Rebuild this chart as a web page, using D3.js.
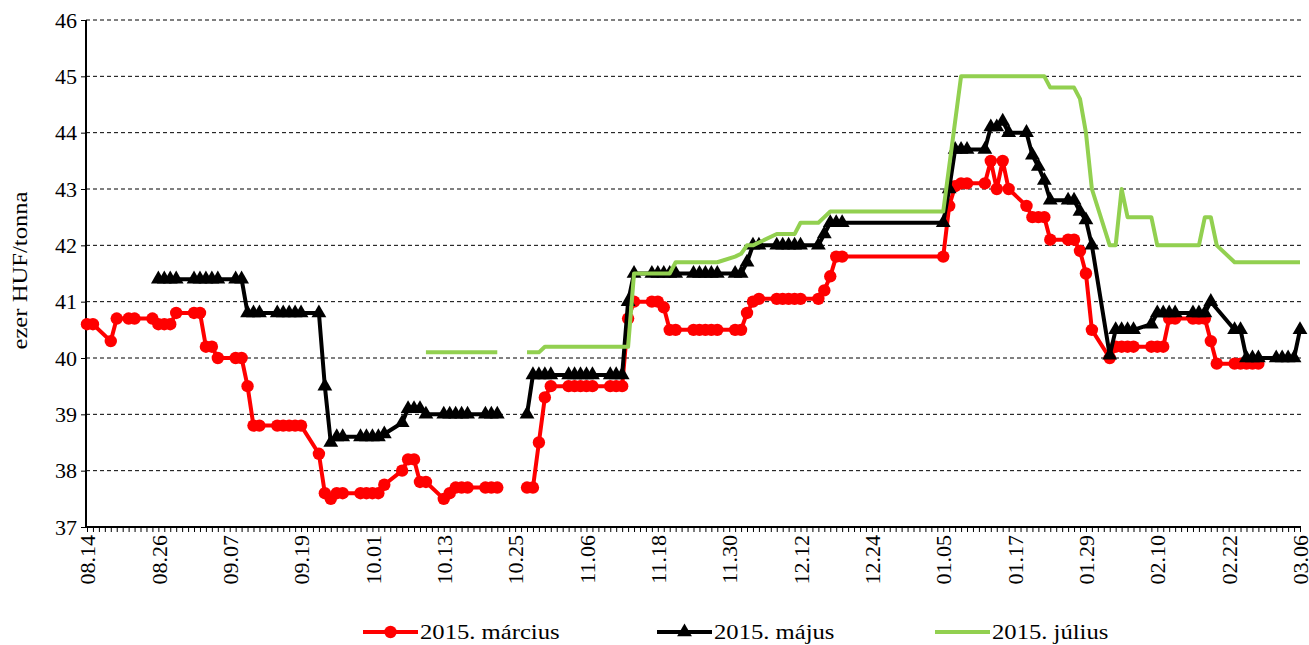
<!DOCTYPE html>
<html>
<head>
<meta charset="utf-8">
<script src="https://cdn.jsdelivr.net/npm/d3@7"></script>
<style>
  body { margin: 0; background: #fff; }
  svg text { font-family: 'Liberation Serif', 'Times New Roman', 'DejaVu Serif', serif !important; }
</style>
</head>
<body>
<svg width="1309" height="645"></svg>
<script>
// ── data ──────────────────────────────────────────────────────────────────────
// trading days (MM.DD), Aug..Dec = 2014, Jan..Mar = 2015
const dates = [
  '08.14', '08.15',
  '08.18', '08.19', '08.21', '08.22',
  '08.25', '08.26', '08.27', '08.28', '08.29',
  '09.01', '09.02', '09.03', '09.04', '09.05',
  '09.08', '09.09', '09.10', '09.11', '09.12',
  '09.15', '09.16', '09.17', '09.18', '09.19',
  '09.22', '09.23', '09.24', '09.25', '09.26',
  '09.29', '09.30', '10.01', '10.02', '10.03',
  '10.06', '10.07', '10.08', '10.09', '10.10',
  '10.13', '10.14', '10.15', '10.16', '10.17',
  '10.20', '10.21', '10.22', '10.23', '10.24',
  '10.27', '10.28', '10.29', '10.30', '10.31',
  '11.03', '11.04', '11.05', '11.06', '11.07',
  '11.10', '11.11', '11.12', '11.13', '11.14',
  '11.17', '11.18', '11.19', '11.20', '11.21',
  '11.24', '11.25', '11.26', '11.27', '11.28',
  '12.01', '12.02', '12.03', '12.04', '12.05',
  '12.08', '12.09', '12.10', '12.11', '12.12',
  '12.15', '12.16', '12.17', '12.18', '12.19',
  '01.05', '01.06', '01.07', '01.08', '01.09',
  '01.12', '01.13', '01.14', '01.15', '01.16',
  '01.19', '01.20', '01.21', '01.22', '01.23',
  '01.26', '01.27', '01.28', '01.29', '01.30',
  '02.02', '02.03', '02.04', '02.05', '02.06',
  '02.09', '02.10', '02.11', '02.12', '02.13',
  '02.16', '02.17', '02.18', '02.19', '02.20',
  '02.23', '02.24', '02.25', '02.26', '02.27',
  '03.02', '03.03', '03.04', '03.05', '03.06',
];

// days with no trading at all (the lines break there)
const closedDays = ['10.23', '10.24'];

const marcius = [
  40.6, 40.6,
  40.3, 40.7, 40.7, 40.7,
  40.7, 40.6, 40.6, 40.6, 40.8,
  40.8, 40.8, 40.2, 40.2, 40.0,
  40.0, 40.0, 39.5, 38.8, 38.8,
  38.8, 38.8, 38.8, 38.8, 38.8,
  38.3, 37.6, 37.5, 37.6, 37.6,
  37.6, 37.6, 37.6, 37.6, 37.75,
  38.0, 38.2, 38.2, 37.8, 37.8,
  37.5, 37.6, 37.7, 37.7, 37.7,
  37.7, 37.7, 37.7, null, null,
  37.7, 37.7, 38.5, 39.3, 39.5,
  39.5, 39.5, 39.5, 39.5, 39.5,
  39.5, 39.5, 39.5, 40.7, 41.0,
  41.0, 41.0, 40.9, 40.5, 40.5,
  40.5, 40.5, 40.5, 40.5, 40.5,
  40.5, 40.5, 40.8, 41.0, 41.05,
  41.05, 41.05, 41.05, 41.05, 41.05,
  41.05, 41.2, 41.45, 41.8, 41.8,
  41.8, 42.7, 43.05, 43.1, 43.1,
  43.1, 43.5, 43.0, 43.5, 43.0,
  42.7, 42.5, 42.5, 42.5, 42.1,
  42.1, 42.1, 41.9, 41.5, 40.5,
  40.0, 40.2, 40.2, 40.2, 40.2,
  40.2, 40.2, 40.2, 40.7, 40.7,
  40.7, 40.7, 40.7, 40.3, 39.9,
  39.9, 39.9, 39.9, 39.9, 39.9,
  null, null, null, null, null,
];

const majus = [
  null, null,
  null, null, null, null,
  null, 41.4, 41.4, 41.4, 41.4,
  41.4, 41.4, 41.4, 41.4, 41.4,
  41.4, 41.4, 40.8, 40.8, 40.8,
  40.8, 40.8, 40.8, 40.8, 40.8,
  40.8, 39.5, 38.5, 38.6, 38.6,
  38.6, 38.6, 38.6, 38.6, 38.65,
  38.85, 39.1, 39.1, 39.1, 39.0,
  39.0, 39.0, 39.0, 39.0, 39.0,
  39.0, 39.0, 39.0, null, null,
  39.0, 39.7, 39.7, 39.7, 39.7,
  39.7, 39.7, 39.7, 39.7, 39.7,
  39.7, 39.7, 39.7, 41.0, 41.5,
  41.5, 41.5, 41.5, 41.5, 41.5,
  41.5, 41.5, 41.5, 41.5, 41.5,
  41.5, 41.5, 41.7, 42.0, 42.0,
  42.0, 42.0, 42.0, 42.0, 42.0,
  42.0, 42.2, 42.4, 42.4, 42.4,
  42.4, 43.0, 43.7, 43.7, 43.7,
  43.7, 44.1, 44.1, 44.2, 44.0,
  44.0, 43.6, 43.4, 43.15, 42.8,
  42.8, 42.8, 42.6, 42.45, 42.0,
  40.05, 40.5, 40.5, 40.5, 40.5,
  40.6, 40.8, 40.8, 40.8, 40.8,
  40.8, 40.8, 40.8, 41.0, null,
  40.5, 40.5, 40.0, 40.0, 40.0,
  40.0, 40.0, 40.0, 40.0, 40.5,
];

const julius = [
  null, null,
  null, null, null, null,
  null, null, null, null, null,
  null, null, null, null, null,
  null, null, null, null, null,
  null, null, null, null, null,
  null, null, null, null, null,
  null, null, null, null, null,
  null, null, null, null, 40.1,
  40.1, 40.1, 40.1, 40.1, 40.1,
  40.1, 40.1, 40.1, null, null,
  40.1, 40.1, 40.1, 40.2, 40.2,
  40.2, 40.2, 40.2, 40.2, 40.2,
  40.2, 40.2, 40.2, 40.2, 41.5,
  41.5, 41.5, 41.5, 41.5, 41.7,
  41.7, 41.7, 41.7, 41.7, 41.7,
  41.8, 41.85, 42.0, 42.0, 42.05,
  42.2, 42.2, 42.2, 42.2, 42.4,
  42.4, 42.5, 42.6, 42.6, 42.6,
  42.6, 43.4, 44.2, 45.0, 45.0,
  45.0, 45.0, 45.0, 45.0, 45.0,
  45.0, 45.0, 45.0, 45.0, 44.8,
  44.8, 44.8, 44.6, 44.0, 43.0,
  42.0, 42.0, 43.0, 42.5, 42.5,
  42.5, 42.0, 42.0, 42.0, 42.0,
  42.0, 42.0, 42.5, 42.5, 42.0,
  41.7, 41.7, 41.7, 41.7, 41.7,
  41.7, 41.7, 41.7, 41.7, 41.7,
];

const seriesNames = ['2015. március', '2015. május', '2015. július'];
const xTickLabels = ['08.14', '08.26', '09.07', '09.19', '10.01', '10.13', '10.25', '11.06', '11.18',
  '11.30', '12.12', '12.24', '01.05', '01.17', '01.29', '02.10', '02.22', '03.06'];
const yTicks = [37, 38, 39, 40, 41, 42, 43, 44, 45, 46];
const yTitle = 'ezer HUF/tonna';

// ── scales ────────────────────────────────────────────────────────────────────
const parseDay = (s) => {
  const [m, d] = s.split('.').map(Number);
  return new Date(Date.UTC(m >= 8 ? 2014 : 2015, m - 1, d));
};

const first = parseDay(xTickLabels[0]);
const last = parseDay(xTickLabels[xTickLabels.length - 1]);

let x = d3.scaleUtc().domain([first, last]).range([87, 1300]);
let y = d3.scaleLinear().domain([37, 46]).range([527, 20]);

let svg = d3.select('svg');
const fontSize = 21;
const stretch = 1.12; // the source text is a bit wider than Times

// widen a text along its own reading direction
function widen(sel) {
  sel.each(function () {
    let w = this.getComputedTextLength();
    d3.select(this).attr('textLength', w * stretch).attr('lengthAdjust', 'spacingAndGlyphs');
  });
}

// grid
svg.append('g')
  .selectAll('line')
  .data(yTicks.slice(1))
  .join('line')
  .attr('x1', 86)
  .attr('x2', 1301)
  .attr('y1', (d) => y(d))
  .attr('y2', (d) => y(d))
  .attr('stroke', '#000')
  .attr('stroke-width', 1)
  .attr('stroke-dasharray', '4,3');

// ── axes ──────────────────────────────────────────────────────────────────────
let everyDay = d3.utcDay.range(first, d3.utcDay.offset(last, 1));

let xAxis = svg.append('g')
  .attr('transform', `translate(0,${y(37)})`)
  .call(d3.axisBottom(x).tickValues(everyDay).tickSize(5).tickSizeOuter(0).tickFormat(''));
xAxis.select('.domain').attr('stroke-width', 2).attr('d', `M86,0H1301`);

let xLabels = svg.append('g')
  .attr('transform', `translate(0,${y(37)})`)
  .call(d3.axisBottom(x).tickValues(xTickLabels.map(parseDay)).tickSize(0)
    .tickFormat((d, i) => xTickLabels[i]));
xLabels.select('.domain').remove();
xLabels.selectAll('text')
  .attr('x', -8)
  .attr('y', 0)
  .attr('dy', '0.35em')
  .attr('transform', 'rotate(-90)')
  .style('text-anchor', 'end')
  .style('font-size', '22px')
  .attr('fill', '#000');

let yAxis = svg.append('g')
  .attr('transform', 'translate(86,0)')
  .call(d3.axisLeft(y).tickValues(yTicks).tickSize(5).tickSizeOuter(0));
yAxis.select('.domain').attr('stroke-width', 2).attr('d', `M0,${y(46)}V${y(37) + 1}`);
yAxis.selectAll('text')
  .attr('x', -9)
  .style('font-size', '22px')
  .attr('fill', '#000');

svg.append('text')
  .attr('transform', `translate(27,${(y(37) + y(46)) / 2 - 3}) rotate(-90)`)
  .attr('text-anchor', 'middle')
  .style('font-size', '22px')
  .text(yTitle)
  .call(widen);

// ── series ────────────────────────────────────────────────────────────────────
function seriesPoints(values) {
  return dates
    .map((s, i) => ({ date: parseDay(s), v: values[i], closed: closedDays.includes(s) }))
    .filter((d) => d.v != null || d.closed);
}

let line = d3.line()
  .defined((d) => d.v != null)
  .x((d) => x(d.date))
  .y((d) => y(d.v));

let triangle = d3.symbol(d3.symbolTriangle, 95);

const series = [
  { values: marcius, color: '#ff0000', marker: 'circle' },
  { values: majus, color: '#000000', marker: 'triangle' },
  { values: julius, color: '#92d050', marker: null },
];

series.forEach((s) => {
  let pts = seriesPoints(s.values);
  let g = svg.append('g');
  g.append('path')
    .attr('d', line(pts))
    .attr('fill', 'none')
    .attr('stroke', s.color)
    .attr('stroke-width', 4)
    .attr('stroke-linejoin', 'round');

  let marks = pts.filter((d) => d.v != null);
  if (s.marker === 'circle') {
    g.selectAll('circle')
      .data(marks)
      .join('circle')
      .attr('cx', (d) => x(d.date))
      .attr('cy', (d) => y(d.v))
      .attr('r', 6.2)
      .attr('fill', s.color);
  } else if (s.marker === 'triangle') {
    g.selectAll('path.mk')
      .data(marks)
      .join('path')
      .attr('class', 'mk')
      .attr('d', triangle)
      .attr('transform', (d) => `translate(${x(d.date)},${y(d.v)})`)
      .attr('fill', s.color);
  }
});

// ── legend ────────────────────────────────────────────────────────────────────
const legendX = [363, 657, 935];
let legend = svg.append('g');

series.forEach((s, i) => {
  let item = legend.append('g').attr('transform', `translate(${legendX[i]},632)`);
  item.append('line')
    .attr('x1', 0).attr('x2', 55)
    .attr('stroke', s.color)
    .attr('stroke-width', 4);
  if (s.marker === 'circle') {
    item.append('circle').attr('cx', 27.5).attr('r', 6.2).attr('fill', s.color);
  } else if (s.marker === 'triangle') {
    item.append('path').attr('d', triangle).attr('transform', 'translate(27.5,0)').attr('fill', s.color);
  }
  item.append('text')
    .attr('x', 57)
    .attr('y', 7)
    .style('font-size', '22px')
    .text(seriesNames[i])
    .call(widen);
});
</script>
</body>
</html>
